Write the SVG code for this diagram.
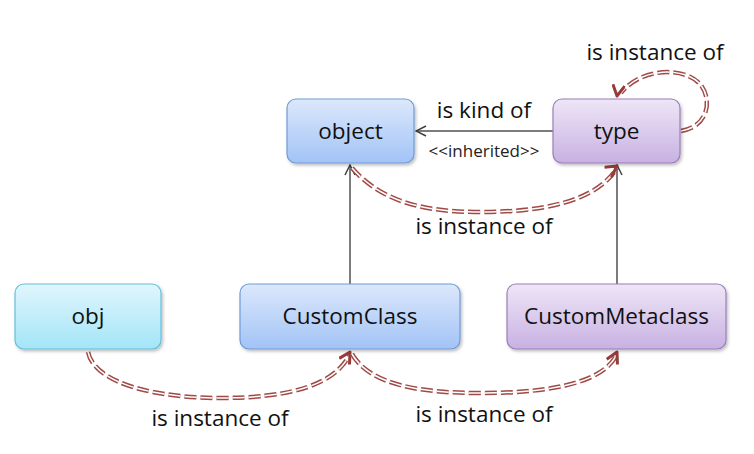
<svg xmlns="http://www.w3.org/2000/svg" width="754" height="454" viewBox="0 0 754 454">
<defs>
<linearGradient id="gBlue" x1="0" y1="0" x2="0" y2="1"><stop offset="0" stop-color="#dce8fc"/><stop offset="1" stop-color="#a2c3f6"/></linearGradient>
<linearGradient id="gCyan" x1="0" y1="0" x2="0" y2="1"><stop offset="0" stop-color="#e0f6fd"/><stop offset="1" stop-color="#a3e5f8"/></linearGradient>
<linearGradient id="gPurple" x1="0" y1="0" x2="0" y2="1"><stop offset="0" stop-color="#eee6f7"/><stop offset="1" stop-color="#c8b1e2"/></linearGradient>
<filter id="sh" x="-10%" y="-10%" width="130%" height="140%"><feDropShadow dx="1.5" dy="2" stdDeviation="1.5" flood-color="#000" flood-opacity="0.25"/></filter>
<marker id="open" viewBox="0 0 12 12" refX="11" refY="6" markerWidth="12" markerHeight="12" markerUnits="userSpaceOnUse" orient="auto"><path d="M1,1 L11,6 L1,11" fill="none" stroke="#404040" stroke-width="1.5"/></marker>
<marker id="red" viewBox="0 0 14 14" refX="12" refY="7" markerWidth="14" markerHeight="14" markerUnits="userSpaceOnUse" orient="auto"><path d="M1,1 L12,7 L1,13" fill="none" stroke="#983c3a" stroke-width="3" stroke-linejoin="round"/></marker>
</defs>
<style>
.box{stroke-width:1.2;filter:url(#sh)}
.blue{fill:url(#gBlue);stroke:#6f9bd8}
.cyan{fill:url(#gCyan);stroke:#62c0dc}
.purple{fill:url(#gPurple);stroke:#9a7ebb}
.lbl{font-family:"Open Sans","Liberation Sans",sans-serif;font-size:22.5px;fill:#111;text-anchor:middle}
.elbl{font-family:"Open Sans","Liberation Sans",sans-serif;font-size:22.5px;fill:#111;text-anchor:middle}
.small{font-family:"Open Sans","Liberation Sans",sans-serif;font-size:17px;fill:#222;text-anchor:middle}
.solid{fill:none;stroke:#505050;stroke-width:1.5}
.dOut{fill:none;stroke:#a04a47;stroke-width:4.5;stroke-dasharray:12 4}
.dIn{fill:none;stroke:#fff;stroke-width:1.5;stroke-dasharray:12 4}
</style>
<g id="connectors">
<path class="solid" d="M553,131 L416,131" marker-end="url(#open)"/>
<path class="solid" d="M350,284 L350,165" marker-end="url(#open)"/>
<path class="solid" d="M617,284 L617,165" marker-end="url(#open)"/>
<path class="dOut" d="M352,168 C380,200 420,212 480,212 C560,212 600,195 617,168"/>
<path class="dIn" d="M352,168 C380,200 420,212 480,212 C560,212 600,195 617,168"/>
<path d="M604,175 L617,166" fill="none" stroke="none" marker-end="url(#red)"/>
<path class="dOut" d="M681,131 C710,126 712,98 700,84 C684,66 640,68 621,93"/>
<path class="dIn" d="M681,131 C710,126 712,98 700,84 C684,66 640,68 621,93"/>
<path d="M619,84 L617,96" fill="none" stroke="none" marker-end="url(#red)"/>
<path class="dOut" d="M88,352 C95,385 160,398 220,398 C290,398 335,385 350,354"/>
<path class="dIn" d="M88,352 C95,385 160,398 220,398 C290,398 335,385 350,354"/>
<path d="M344,362 L350,352" fill="none" stroke="none" marker-end="url(#red)"/>
<path class="dOut" d="M352,354 C370,385 420,393 480,393 C560,393 605,380 617,354"/>
<path class="dIn" d="M352,354 C370,385 420,393 480,393 C560,393 605,380 617,354"/>
<path d="M612,362 L617,352" fill="none" stroke="none" marker-end="url(#red)"/>
</g>
<g id="object"><rect class="box blue" x="287" y="99" width="127" height="64" rx="9"/><text class="lbl" x="350.5" y="139">object</text></g>
<g id="type"><rect class="box purple" x="553" y="99" width="127" height="64" rx="9"/><text class="lbl" x="616.5" y="139">type</text></g>
<g id="obj"><rect class="box cyan" x="15" y="284" width="146" height="65" rx="9"/><text class="lbl" x="88" y="324">obj</text></g>
<g id="CustomClass"><rect class="box blue" x="240" y="284" width="220" height="65" rx="9"/><text class="lbl" x="350" y="324">CustomClass</text></g>
<g id="CustomMetaclass"><rect class="box purple" x="507" y="284" width="219" height="65" rx="9"/><text class="lbl" x="616.5" y="324">CustomMetaclass</text></g>
<g id="labels">
<text class="elbl" x="484" y="118">is kind of</text>
<text class="small" x="484" y="157">&lt;&lt;inherited&gt;&gt;</text>
<text class="elbl" x="484" y="234">is instance of</text>
<text class="elbl" x="655" y="60">is instance of</text>
<text class="elbl" x="220" y="426">is instance of</text>
<text class="elbl" x="484" y="422">is instance of</text>
</g>
</svg>
